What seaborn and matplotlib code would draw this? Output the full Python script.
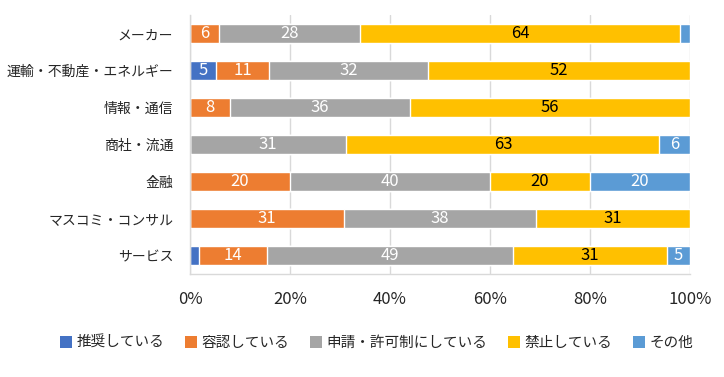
import seaborn as sns
import matplotlib.pyplot as plt
import numpy as np
from matplotlib.patches import Patch

categories = ["メーカー", "運輸・不動産・エネルギー", "情報・通信", "商社・流通",
              "金融", "マスコミ・コンサル", "サービス"]
series = ["推奨している", "容認している", "申請・許可制にしている", "禁止している", "その他"]

recommend = [0.0, 5.3, 0.0, 0.0, 0.0, 0.0, 1.8]
allow = [5.8, 10.6, 8.0, 0.0, 20.0, 30.8, 13.6]
permit = [28.2, 31.7, 36.0, 31.3, 40.0, 38.4, 49.2]
prohibit = [64.1, 52.4, 56.0, 62.6, 20.0, 30.8, 30.8]
other = [1.9, 0.0, 0.0, 6.1, 20.0, 0.0, 4.6]

colors = ["#4472C4", "#ED7D31", "#A5A5A5", "#FFC000", "#5B9BD5"]
text_colors = ["white", "white", "white", "black", "white"]

sns.set_theme(style="white")
plt.rcParams['font.family'] = ['Noto Sans CJK JP', 'DejaVu Sans']

fig = plt.figure(figsize=(7.24, 3.77), dpi=100)
ax = fig.add_axes([0.2624, 0.273, 0.6906, 0.687])

values = np.array([recommend, allow, permit, prohibit, other])
cum = np.cumsum(values, axis=0)

# draw cumulative bars from the widest down so each segment shows through
for i in range(len(series) - 1, -1, -1):
    sns.barplot(x=cum[i], y=categories, orient="h", color=colors[i],
                width=0.5, saturation=1, ax=ax, zorder=2)

for i in range(len(series)):
    for j in range(len(categories)):
        v = values[i][j]
        if v >= 3:
            ax.text(cum[i][j] - v / 2, j, "%d" % round(v), ha="center", va="center",
                    color=text_colors[i], fontsize=12, zorder=3)

ax.set_xlim(0, 100)
ax.set_ylim(len(categories) - 0.5, -0.5)
ax.set_xticks(np.arange(0, 101, 20))
ax.set_xticklabels(["%d%%" % t for t in range(0, 101, 20)], fontsize=12, color="#262626")
ax.tick_params(axis="x", length=0, pad=12)
ax.set_yticks(range(len(categories)))
ax.set_yticklabels(categories, fontsize=10, color="#262626")
ax.set_yticks(np.arange(-0.5, len(categories), 1), minor=True)
ax.tick_params(axis="y", which="major", length=0, pad=12)
ax.tick_params(axis="y", which="minor", length=6, width=1, color="#D9D9D9", direction="in")
ax.set_xlabel("")
ax.set_ylabel("")
ax.xaxis.grid(True, color="#D9D9D9", linewidth=1, zorder=0)
ax.set_axisbelow(True)
for s in ["top", "right"]:
    ax.spines[s].set_visible(False)
for s in ["left", "bottom"]:
    ax.spines[s].set_color("#D9D9D9")
    ax.spines[s].set_linewidth(1)

handles = [Patch(facecolor=c, edgecolor="none") for c in colors]
fig.legend(handles, series, loc="center", bbox_to_anchor=(0.52, 0.09), ncol=5,
           frameon=False, fontsize=10.5, handlelength=0.85, handleheight=0.85,
           handletextpad=0.3, columnspacing=1.4)

fig.savefig("out.png", dpi=100)
